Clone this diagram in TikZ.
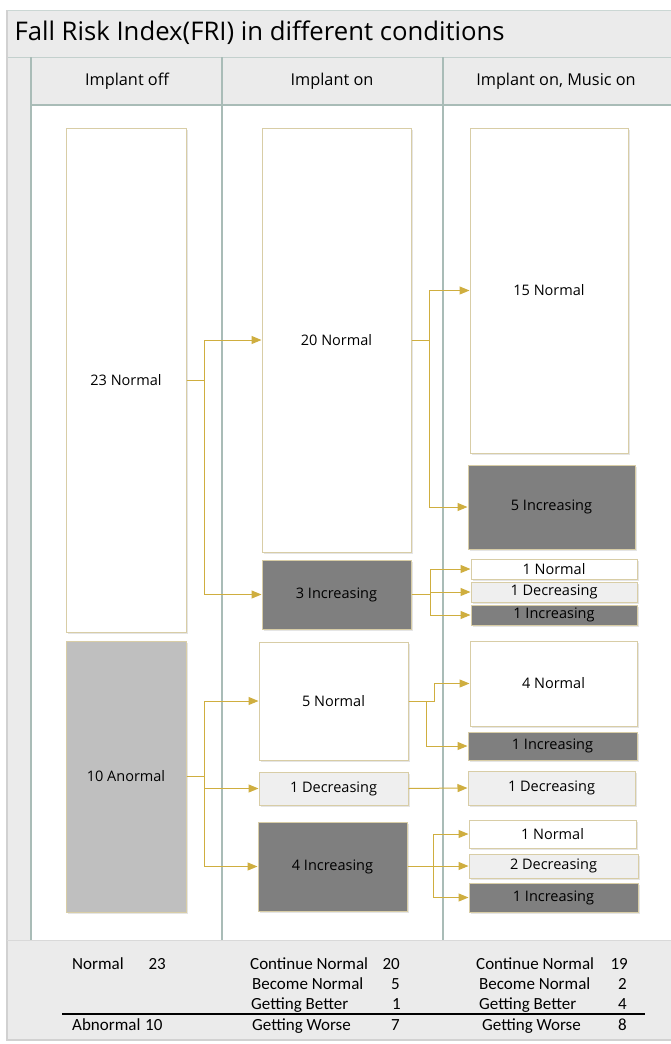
\documentclass[tikz,border=0pt]{standalone}
\usepackage{fontspec}
\setmainfont{Carlito}
\newfontfamily\headfont{Open Sans}
\usetikzlibrary{arrows.meta,shadows}
\definecolor{bandgray}{HTML}{EBEBEB}
\definecolor{rulegreen}{HTML}{A9BCB7}
\definecolor{boxtan}{HTML}{D8CDA6}
\definecolor{flowgold}{HTML}{CFAE3F}
\definecolor{darkfill}{HTML}{7F7F7F}
\definecolor{midfill}{HTML}{BFBFBF}
\definecolor{lightfill}{HTML}{EFEFEF}

\begin{document}
\begin{tikzpicture}[x=1pt, y=-1pt,
    every node/.style={font=\fontsize{17}{19}\selectfont},
    box/.style={rectangle, draw=boxtan, line width=1pt, inner sep=0pt,
      font=\headfont\fontsize{14.5}{17}\selectfont,
      drop shadow={opacity=0.2, shadow xshift=1.5pt, shadow yshift=-1.5pt}},
    normbox/.style={box, fill=white},
    decbox/.style={box, fill=lightfill},
    incbox/.style={box, fill=darkfill},
    abnbox/.style={box, fill=midfill},
    flow/.style={draw=flowgold, line width=1pt, -{Triangle[length=10pt,width=8pt,fill=flowgold]}},
    head/.style={font=\headfont\fontsize{16.3}{19}\selectfont},
    sumtxt/.style={anchor=base west, inner sep=0pt},
    sumnum/.style={anchor=base east, inner sep=0pt}]
    \useasboundingbox (0,0) rectangle (670,1044);
    % background and table
    \fill [white] (0,0) rectangle (670,1044);
    \fill [bandgray] (7,10) rectangle (672,105);
    \fill [bandgray] (7,105) rectangle (31,940);
    \fill [bandgray] (7,940) rectangle (672,1040);
    \draw [rulegreen!60, line width=1pt] (7,10) -- (672,10);
    \draw [rulegreen!70, line width=1pt] (7,57) -- (672,57);
    \draw [black!18, line width=1.5pt] (7,10) -- (7,1040) -- (672,1040);
    \draw [black!15, line width=1pt] (7,940) -- (672,940);
    \draw [rulegreen, line width=1.5pt] (31,57) -- (31,940);
    \draw [rulegreen, line width=1.5pt] (222,57) -- (222,940);
    \draw [rulegreen, line width=1.5pt] (443,57) -- (443,940);
    \draw [rulegreen, line width=2pt] (31,105) -- (672,105);
    % title and headers
    \node (title) [anchor=west, font=\headfont\fontsize{25.7}{29}\selectfont] at (11,33) {Fall Risk Index(FRI) in different conditions};
    \node (hoff) [head] at (127,81) {Implant off};
    \node (hon) [head] at (332,81) {Implant on};
    \node (hmus) [head] at (556,81) {Implant on, Music on};
    % implant off
    \node (off23) [normbox, minimum width=120pt, minimum height=504pt] at (126,380) {23 Normal};
    \node (off10) [abnbox, minimum width=120pt, minimum height=271pt] at (126,776.5) {10 Anormal};
    % implant on
    \node (on20) [normbox, minimum width=149pt, minimum height=424pt] at (336.5,340) {20 Normal};
    \node (on3) [incbox, minimum width=149pt, minimum height=69pt] at (336.5,594.5) {3 Increasing};
    \node (on5) [normbox, minimum width=149pt, minimum height=118pt] at (333.5,701) {5 Normal};
    \node (on1) [decbox, minimum width=149pt, minimum height=33pt] at (333.5,788.5) {1 Decreasing};
    \node (on4) [incbox, minimum width=149pt, minimum height=89pt] at (332.5,866.5) {4 Increasing};
    % implant on, music on
    \node (mus15) [normbox, minimum width=158pt, minimum height=325pt] at (549,290.5) {15 Normal};
    \node (mus5i) [incbox, minimum width=167pt, minimum height=84pt] at (551.5,507) {5 Increasing};
    \node (mus1n) [normbox, minimum width=166pt, minimum height=20pt] at (554,569) {1 Normal};
    \node (mus1d) [decbox, minimum width=166pt, minimum height=20pt] at (554,592) {1 Decreasing};
    \node (mus1i) [incbox, minimum width=166pt, minimum height=20pt] at (554,615) {1 Increasing};
    \node (mus4) [normbox, minimum width=167pt, minimum height=85pt] at (553.5,683.5) {4 Normal};
    \node (mus1ib) [incbox, minimum width=169pt, minimum height=28pt] at (552.5,746) {1 Increasing};
    \node (mus1db) [decbox, minimum width=167pt, minimum height=34pt] at (551.5,788) {1 Decreasing};
    \node (mus1nb) [normbox, minimum width=167pt, minimum height=28pt] at (552.5,834) {1 Normal};
    \node (mus2d) [decbox, minimum width=169pt, minimum height=24pt] at (553.5,866) {2 Decreasing};
    \node (mus1ic) [incbox, minimum width=169pt, minimum height=29pt] at (553.5,897.5) {1 Increasing};
    % arrows
    \draw [flow] (off23.east) -- ++(18,0) |- (on20.west);
    \draw [flow] (off23.east) -- ++(18,0) |- (on3.west);
    \draw [flow] (off10.east) -- ++(18,0) |- (on5.west);
    \draw [flow] (off10.east) -- ++(18,0) |- (on1.west);
    \draw [flow] (off10.east) -- ++(18,0) |- (on4.west);
    \draw [flow] (on20.east) -- ++(18,0) |- (mus15.west);
    \draw [flow] (on20.east) -- ++(18,0) |- (mus5i.west);
    \draw [flow] (on3.east) -- ++(19,0) |- (mus1n.west);
    \draw [flow] (on3.east) -- ++(19,0) |- (mus1d.west);
    \draw [flow] (on3.east) -- ++(19,0) |- (mus1i.west);
    \draw [flow] (on5.east) -- ++(26,0) |- (mus4.west);
    \draw [flow] (on5.east) -- ++(18,0) |- (mus1ib.west);
    \draw [flow] (on1.east) -- (mus1db.west);
    \draw [flow] (on4.east) -- ++(26,0) |- (mus1nb.west);
    \draw [flow] (on4.east) -- ++(26,0) |- (mus2d.west);
    \draw [flow] (on4.east) -- ++(26,0) |- (mus1ic.west);
    % summary
    \draw [black, line width=1.5pt] (62,1014) -- (645,1014);
    \node (sn) [sumtxt] at (72,969) {Normal};
    \node (snv) [sumnum] at (166,969) {23};
    \node (sa) [sumtxt] at (72,1030) {Abnormal};
    \node (sav) [sumtxt] at (145,1030) {10};
    \node (c2a) [sumtxt] at (250,969) {Continue Normal};
    \node (c2av) [sumnum] at (400,969) {20};
    \node (c2b) [sumtxt] at (252,989) {Become Normal};
    \node (c2bv) [sumnum] at (400,989) {5};
    \node (c2c) [sumtxt] at (251,1009) {Getting Better};
    \node (c2cv) [sumnum] at (401,1009) {1};
    \node (c2d) [sumtxt] at (252,1030) {Getting Worse};
    \node (c2dv) [sumnum] at (400,1030) {7};
    \node (c3a) [sumtxt] at (476,969) {Continue Normal};
    \node (c3av) [sumnum] at (628,969) {19};
    \node (c3b) [sumtxt] at (479,989) {Become Normal};
    \node (c3bv) [sumnum] at (627,989) {2};
    \node (c3c) [sumtxt] at (479,1009) {Getting Better};
    \node (c3cv) [sumnum] at (627,1009) {4};
    \node (c3d) [sumtxt] at (482,1030) {Getting Worse};
    \node (c3dv) [sumnum] at (627,1030) {8};
\end{tikzpicture}
\end{document}
